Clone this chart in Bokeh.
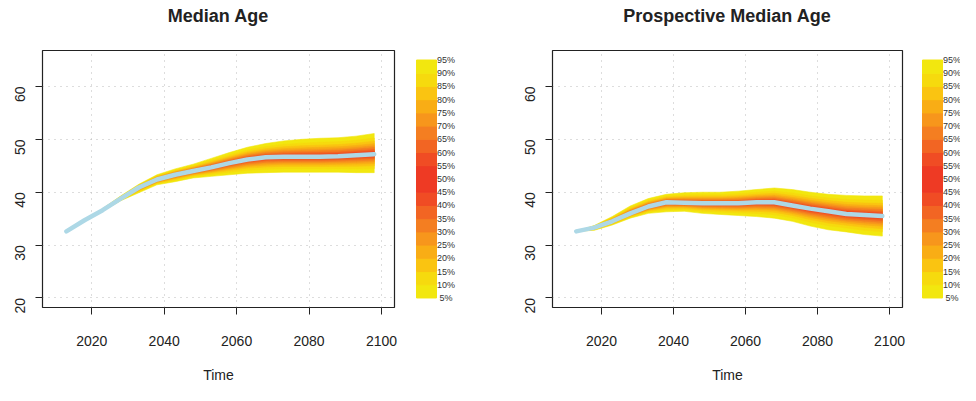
import math
import numpy as np
from bokeh.plotting import figure
from bokeh.models import Range1d, FixedTicker, Div
from bokeh.layouts import row, column
from bokeh.embed import file_html
from bokeh.resources import INLINE

# projection years (5-year steps)
years = [2013, 2018, 2023, 2028, 2033, 2038, 2043, 2048, 2053,
         2058, 2063, 2068, 2073, 2078, 2083, 2088, 2093, 2098]

# Median Age: median, 5% and 95% quantiles
median_age = [32.6, 34.7, 36.6, 38.8, 40.9, 42.4, 43.3, 44.0, 44.7,
              45.5, 46.2, 46.6, 46.7, 46.7, 46.7, 46.8, 47.0, 47.2]
median_age_q95 = [32.6, 34.8, 36.9, 39.3, 41.5, 43.3, 44.4, 45.3, 46.4,
                  47.5, 48.5, 49.2, 49.7, 50.0, 50.2, 50.3, 50.6, 51.1]
median_age_q05 = [32.6, 34.6, 36.4, 38.4, 39.9, 41.4, 42.0, 42.7, 43.0,
                  43.3, 43.6, 43.7, 43.8, 43.8, 43.8, 43.8, 43.7, 43.7]

# Prospective Median Age: median, 5% and 95% quantiles
prosp_age = [32.6, 33.3, 34.5, 36.0, 37.3, 38.1, 38.0, 37.9, 37.9,
             37.9, 38.1, 38.1, 37.5, 36.9, 36.4, 35.9, 35.7, 35.5]
prosp_age_q95 = [32.6, 33.7, 35.4, 37.4, 38.8, 39.6, 39.9, 40.0, 40.0,
                 40.2, 40.5, 40.8, 40.5, 40.0, 39.6, 39.4, 39.3, 39.3]
prosp_age_q05 = [32.6, 32.8, 33.8, 35.1, 36.0, 36.3, 36.4, 36.0, 35.8,
                 35.6, 35.4, 35.1, 34.5, 33.6, 32.9, 32.5, 32.0, 31.7]

# fan bands (outer -> inner): lower percentile, share of the 5-95 half width
band_probs = [5, 10, 15, 20, 25, 30, 35, 40, 45]
band_fraction = [1.00, 0.78, 0.63, 0.51, 0.41, 0.32, 0.23, 0.15, 0.08]
band_colors = ["#F2E70F", "#F6DA0E", "#FAC411", "#F9AD15", "#F7961C",
               "#F47E21", "#F26523", "#F04C24", "#EE3A24"]

legend_levels = [5, 10, 15, 20, 25, 30, 35, 40, 45, 50,
                 55, 60, 65, 70, 75, 80, 85, 90, 95]
legend_labels = ["5%", "10%", "15%", "20%", "25%", "30%", "35%", "40%", "45%", "50%",
                 "55%", "60%", "65%", "70%", "75%", "80%", "85%", "90%", "95%"]

titles = ["Median Age", "Prospective Median Age"]
x_ticks = [2020, 2040, 2060, 2080, 2100]
y_ticks = [20, 30, 40, 50, 60]

FONT = "Liberation Sans"
TXT = "#222222"
TITLE_H = 32
H = 385 - TITLE_H
TOP = 18
BOTTOM = 69


def fan_panel(median, q05, q95, left, frame_w):
    p = figure(width=left + frame_w + 4, height=H,
               x_range=Range1d(2006.4, 2103.6), y_range=Range1d(18.2, 66.8),
               x_axis_label="Time", toolbar_location=None, output_backend="svg",
               min_border_left=left, min_border_right=4,
               min_border_top=TOP, min_border_bottom=BOTTOM)

    p.outline_line_color = TXT
    p.outline_line_width = 1.2
    p.xaxis.ticker = FixedTicker(ticks=x_ticks)
    p.yaxis.ticker = FixedTicker(ticks=y_ticks)
    p.axis.axis_line_color = None
    p.axis.minor_tick_line_color = None
    p.axis.major_tick_in = 0
    p.axis.major_tick_out = 7
    p.axis.major_tick_line_color = TXT
    p.axis.major_label_text_font = FONT
    p.axis.major_label_text_font_size = "14px"
    p.axis.major_label_text_color = TXT
    p.xaxis.major_label_standoff = 21
    p.yaxis.major_label_standoff = 15
    p.yaxis.major_label_orientation = math.pi / 2
    p.xaxis.axis_label_text_font = FONT
    p.xaxis.axis_label_text_font_size = "14px"
    p.xaxis.axis_label_text_font_style = "normal"
    p.xaxis.axis_label_text_color = TXT
    p.xaxis.axis_label_standoff = 18

    p.grid.grid_line_color = "#BBBBBB"
    p.grid.grid_line_dash = "1 5"
    p.grid.grid_line_width = 1

    med = np.array(median)
    lo = np.array(q05)
    hi = np.array(q95)
    xs = years + years[::-1]
    for frac, col in zip(band_fraction, band_colors):
        top = med + frac * (hi - med)
        bot = med - frac * (med - lo)
        p.patch(xs, list(top) + list(bot[::-1]), fill_color=col,
                line_color=col, line_width=0.6)
    p.line(years, median, line_width=4.5, line_color="#ADD8E6",
           line_cap="round", line_join="round")
    return p


def fan_legend(width, bar_left):
    p = figure(width=width, height=H, x_range=Range1d(0, width),
               y_range=Range1d(1.4, 98.6), toolbar_location=None,
               output_backend="svg", min_border_left=0, min_border_right=0,
               min_border_top=TOP, min_border_bottom=BOTTOM)
    p.axis.visible = False
    p.grid.visible = False
    p.outline_line_color = None
    colors = band_colors + band_colors[::-1]
    bottoms = legend_levels[:-1]
    tops = legend_levels[1:]
    p.quad(left=bar_left, right=bar_left + 20, bottom=bottoms, top=tops,
           fill_color=colors, line_color=colors)
    p.text(x=bar_left + 29.5, y=legend_levels, text=legend_labels,
           text_align="center", text_baseline="middle", text_font_size="9px",
           text_color="#333333", text_font={"value": FONT})
    return p


# titles centred over each plot box
span = ("position:absolute;top:0;left:{}px;width:{}px;text-align:center;"
        "font:bold 18px 'Liberation Sans';color:#222;line-height:" + str(TITLE_H) + "px;")
title_html = ('<div style="position:relative;width:960px;height:{}px;">'.format(TITLE_H)
              + '<span style="' + span.format(42, 352) + '">' + titles[0] + '</span>'
              + '<span style="' + span.format(552, 350) + '">' + titles[1] + '</span>'
              + '</div>')
head = Div(text=title_html, width=960, height=TITLE_H, margin=(0, 0, 0, 0))

p1 = fan_panel(median_age, median_age_q05, median_age_q95, 42, 352)
l1 = fan_legend(92, 18)
p2 = fan_panel(prosp_age, prosp_age_q05, prosp_age_q95, 62, 350)
l2 = fan_legend(54, 16)

p = column(head, row(p1, l1, p2, l2))
open("out.html", "w").write(file_html(p, INLINE))
